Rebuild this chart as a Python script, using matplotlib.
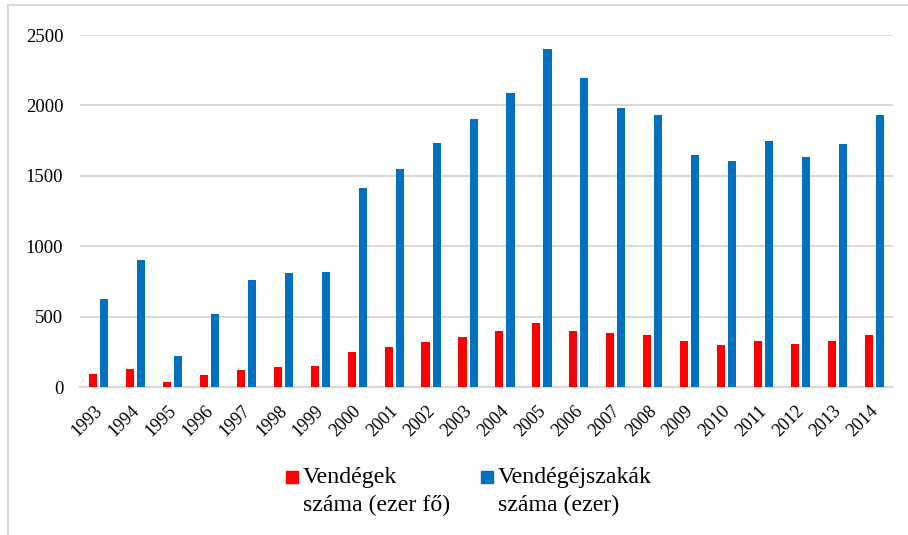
import matplotlib.pyplot as plt
from matplotlib.patches import Rectangle
from matplotlib.lines import Line2D
from matplotlib.transforms import ScaledTranslation
import numpy as np

years = [str(y) for y in range(1993, 2015)]
vendegek = [92, 127, 33, 85, 124, 142, 149, 250, 281, 319, 354, 399,
            453, 399, 380, 368, 324, 297, 326, 307, 326, 366]
ejszakak = [625, 900, 220, 520, 760, 810, 820, 1415, 1550, 1730, 1905, 2090,
            2400, 2195, 1985, 1935, 1645, 1605, 1745, 1630, 1725, 1930]

red = '#FF0000'
blue = '#0070C0'
grid = '#D9D9D9'

plt.rcParams['font.family'] = ['Liberation Serif', 'DejaVu Serif']

fig = plt.figure(figsize=(9.08, 5.35), dpi=100)
ax = fig.add_axes([80 / 908, 1 - 387 / 535, 813 / 908, 352 / 535])

x = np.arange(len(years))
w = 0.22
ax.bar(x - 0.15, vendegek, width=w, color=red, zorder=3)
ax.bar(x + 0.15, ejszakak, width=w, color=blue, zorder=3)

ax.set_xlim(-0.5, len(years) - 0.5)
ax.set_ylim(0, 2500)
ax.set_yticks(range(0, 2501, 500))
ax.yaxis.grid(True, color=grid, linewidth=1.5, zorder=0)
ax.set_axisbelow(True)
for s in ['top', 'right', 'left']:
    ax.spines[s].set_visible(False)
ax.spines['bottom'].set_color(grid)
ax.spines['bottom'].set_linewidth(1.5)
ax.tick_params(axis='both', length=0)
ax.tick_params(axis='y', pad=12, labelsize=13.5)
ax.set_xticks(x)
ax.set_xticklabels(years, rotation=45, ha='right', rotation_mode='anchor')
ax.tick_params(axis='x', pad=9, labelsize=13)
shift = ScaledTranslation(-0.05, -0.03, fig.dpi_scale_trans)
for lab in ax.get_xticklabels():
    lab.set_transform(lab.get_transform() + shift)

# outer frame (top and left edges visible)
fig.add_artist(Line2D([8 / 908, 1], [1 - 5 / 535, 1 - 5 / 535], color=grid, linewidth=1.5))
fig.add_artist(Line2D([8 / 908, 8 / 908], [0, 1 - 5 / 535], color=grid, linewidth=1.5))

# legend
items = [(red, 'Vendégek\nszáma (ezer fő)', 286), (blue, 'Vendégéjszakák\nszáma (ezer)', 481)]
for col, label, px in items:
    fig.add_artist(Rectangle((px / 908, 1 - 483 / 535), 12 / 908, 12 / 535,
                             color=col, transform=fig.transFigure))
    fig.text((px + 17) / 908, 1 - 467 / 535, label, fontsize=17.2, va='top',
             ha='left', linespacing=1.45)

fig.savefig('out.png', dpi=100)
